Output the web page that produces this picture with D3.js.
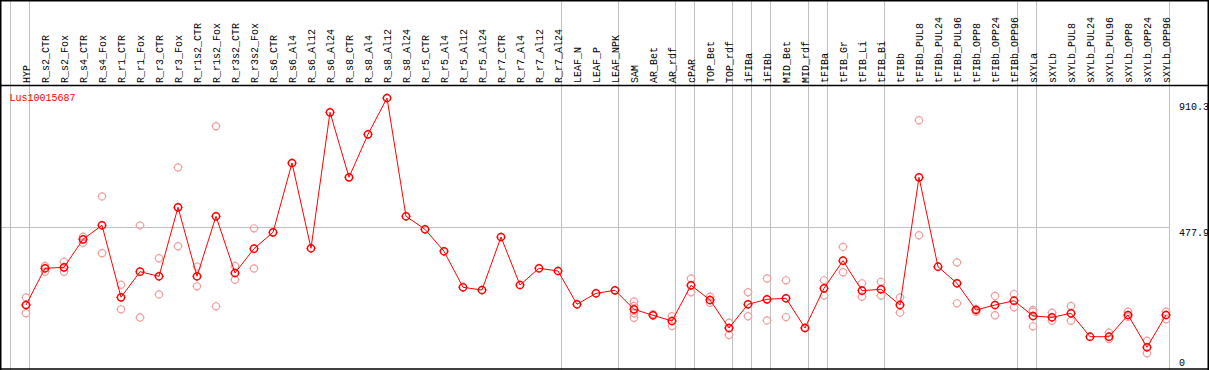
<!DOCTYPE html>
<html><head><meta charset="utf-8">
<script src="https://cdn.jsdelivr.net/npm/d3@7"></script>
<style>
html,body{margin:0;padding:0;background:#fff;}
svg{display:block;}
text{font-family:"Liberation Mono","DejaVu Sans Mono",monospace;font-size:10px;}
</style></head>
<body><svg id="c" width="1209" height="370"></svg>
<script>
const title = "Lus10015687";
const groups = [
  ["HYP"],
  ["R_s2_CTR","R_s2_Fox","R_s4_CTR","R_s4_Fox","R_r1_CTR","R_r1_Fox","R_r3_CTR","R_r3_Fox","R_r1s2_CTR","R_r1s2_Fox","R_r3s2_CTR","R_r3s2_Fox","R_s6_CTR","R_s6_Al4","R_s6_Al12","R_s6_Al24","R_s8_CTR","R_s8_Al4","R_s8_Al12","R_s8_Al24","R_r5_CTR","R_r5_Al4","R_r5_Al12","R_r5_Al24","R_r7_CTR","R_r7_Al4","R_r7_Al12","R_r7_Al24"],
  ["LEAF_N","LEAF_P","LEAF_NPK"],
  ["SAM","AR_Bet","AR_rdf"],
  ["cPAR"],
  ["TOP_Bet","TOP_rdf"],
  ["iFIBa"],
  ["iFIBb"],
  ["MID_Bet","MID_rdf"],
  ["tFIBa"],
  ["tFIB_Gr","tFIB_Li","tFIB_Bi"],
  ["tFIBb","tFIBb_PUL8","tFIBb_PUL24","tFIBb_PUL96","tFIBb_OPP8","tFIBb_OPP24","tFIBb_OPP96"],
  ["sXYLa"],
  ["sXYLb","sXYLb_PUL8","sXYLb_PUL24","sXYLb_PUL96","sXYLb_OPP8","sXYLb_OPP24","sXYLb_OPP96"]
];
const categories = groups.flat();
const means = [217.5,340.4,343.7,437.4,484.3,243.3,329.0,313.6,544.5,313.6,514.4,324.6,406.0,460.8,692.8,407.3,862.4,644.9,788.8,910.3,514.4,470.9,397.3,276.8,267.7,445.1,284.5,340.4,331.3,219.9,256.7,266.7,203.1,183.1,164.0,283.5,234.3,140.6,219.9,236.6,240.0,140.6,273.4,365.8,265.4,270.1,217.5,644.9,345.7,290.2,200.8,217.5,231.9,180.7,176.4,189.8,111.4,111.4,184.1,76.0,184.1];
const replicates = [
  [243,218,190],[348,329],[362,329],[446,426],[581,391],[285,203],[484,176],[374,253],[678,414],[346,280],[816,213],[348,302],[474,340],
  [],[],[],[],[],[],[],[],[],[],[],[],[],[],[],[],[],[],[],
  [229,214,190,175],[187],[180,147],[306,260],[245,225],[158,117],[260,180],[306,166],[300,177],[141],[300,249],[412,327],[290,245],[295,249],[243,192],
  [836,451],[],[360,223],[204,195],[248,183],[254,210],[201,195,146],[192,165],[214,165],[],[125,104],[195,178],[98,56],[195,170]
];
const yTicks = [0, 477.9, 910.3];
const yMax = 910.3;

const svg = d3.select("#c");
const W = 1209, H = 370;
const x = d3.scaleBand().domain(categories).range([11, 1170]);
const y = d3.scaleLinear().domain([0, yMax]).range([370, 98]);
const px = c => x(c) + 15;

const seps = [];
groups.forEach(g => seps.push(x(g[0])));
seps.push(x.range()[1]);
svg.append("g").selectAll("line").data(seps).join("line")
  .attr("x1", d => Math.round(d) - 0.5).attr("x2", d => Math.round(d) - 0.5)
  .attr("y1", 0).attr("y2", H)
  .attr("stroke", "#c0c0c0").attr("stroke-width", 1);

svg.append("line")
  .attr("x1", 1).attr("x2", x.range()[1] - 0.5)
  .attr("y1", Math.floor(y(yTicks[1])) + 0.5).attr("y2", Math.floor(y(yTicks[1])) + 0.5)
  .attr("stroke", "#c0c0c0").attr("stroke-width", 1);

svg.append("line").attr("x1",0).attr("x2",W).attr("y1",0.75).attr("y2",0.75).attr("stroke","#000").attr("stroke-width",1.5);
svg.append("line").attr("x1",0.75).attr("x2",0.75).attr("y1",0).attr("y2",H).attr("stroke","#000").attr("stroke-width",1.5);
svg.append("line").attr("x1",0).attr("x2",W).attr("y1",85.5).attr("y2",85.5).attr("stroke","#000").attr("stroke-width",1.5);
svg.append("line").attr("x1",0).attr("x2",W).attr("y1",369).attr("y2",369).attr("stroke","#000").attr("stroke-width",1.5);
svg.append("line").attr("x1",1208.25).attr("x2",1208.25).attr("y1",0).attr("y2",H).attr("stroke","#000").attr("stroke-width",1.5);

svg.append("g").selectAll("text").data(categories).join("text")
  .attr("transform", d => `translate(${px(d) + 4},83) rotate(-90)`)
  .attr("text-anchor", "start")
  .attr("fill", "#000")
  .text(d => d);

const tickOff = {0: -4, 1: 9, 2: 12};
svg.append("g").selectAll("text").data(yTicks).join("text")
  .attr("x", 1179)
  .attr("y", (d, i) => y(d) + tickOff[i])
  .attr("fill", "#000")
  .text(d => d === 0 ? "0" : d3.format(".1f")(d));

svg.append("text").attr("x", 9.5).attr("y", 100.5).attr("fill", "#ff0000").text(title);

function marker(g, cx, cy, color, sw) {
  const r = 3.6;
  g.append("circle").attr("cx", cx).attr("cy", cy).attr("r", r)
    .attr("fill", "none").attr("stroke", color).attr("stroke-width", sw);
  [[0,-1],[0,1],[-1,0],[1,0]].forEach(([dx,dy]) => {
    g.append("line")
      .attr("x1", cx + dx * r).attr("y1", cy + dy * r)
      .attr("x2", cx + dx * (r + 1)).attr("y2", cy + dy * (r + 1))
      .attr("stroke", color).attr("stroke-width", 1);
  });
}

const gRep = svg.append("g");
categories.forEach((c, i) => {
  (replicates[i] || []).forEach(v => marker(gRep, px(c), y(v), "#f0a0a0", 1.2));
});

svg.append("path")
  .datum(categories.map((c, i) => [px(c), y(means[i])]))
  .attr("d", d3.line())
  .attr("fill", "none").attr("stroke", "#ff0000").attr("stroke-width", 1);

const gMean = svg.append("g");
categories.forEach((c, i) => marker(gMean, px(c), y(means[i]), "#ff0000", 1.5));
</script></body></html>
